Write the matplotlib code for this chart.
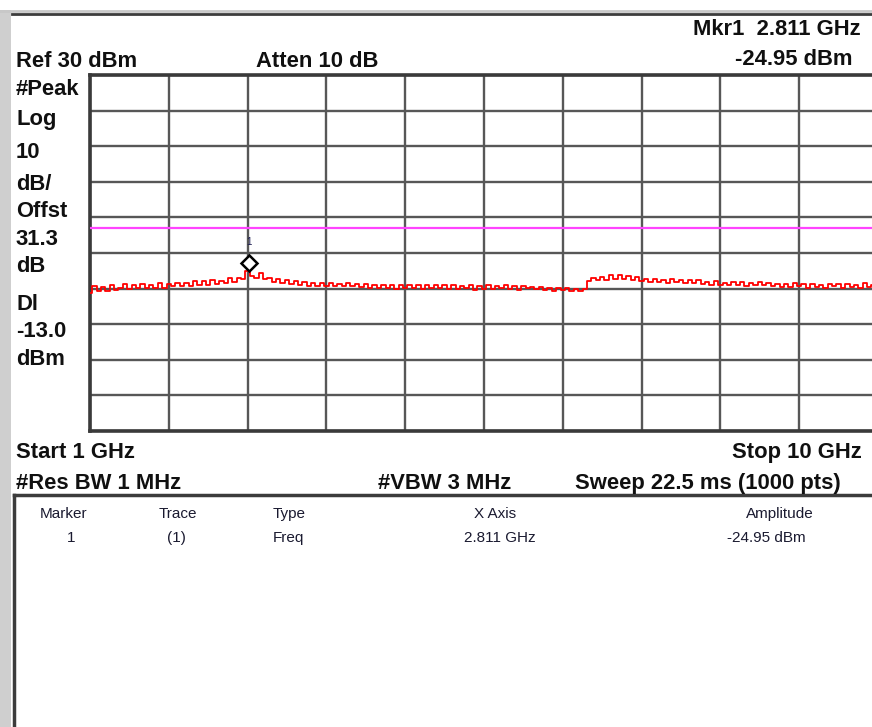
import numpy as np
import matplotlib
matplotlib.use("Agg")
import matplotlib.pyplot as plt
from matplotlib.transforms import ScaledTranslation
from matplotlib.lines import Line2D
from matplotlib.patches import Rectangle

# ---------------- data ----------------
start_ghz = 1.0
stop_ghz = 10.0
ref_level = 30          # dBm at top of screen
db_per_div = 10
display_line = -13.0    # dBm
marker_freq = 2.811     # GHz
marker_amp = -24.95     # dBm

trace_dbm = [
    -31.2, -29.4, -30.6, -29.6, -30.7, -29.1, -30.3,
    -29.8, -28.8, -30.1, -29.1, -29.9, -28.6, -29.8, -28.9, -29.7, -28.5, -29.8, -28.8, -29.4, -28.4,
    -29.3, -28.3, -29.2, -28.0, -29.0, -27.9, -28.9, -27.7, -28.8, -27.8,
    -28.3, -27.1, -28.2, -26.9, -27.4,
    -24.95, -26.6, -27.1, -25.6, -27.2,
    -26.9, -28.2, -27.3, -28.5, -27.6, -28.7,
    -28.0, -29.1, -28.2, -29.3, -28.3, -29.2, -28.5, -29.4, -28.4, -29.3, -28.6, -29.4, -28.5, -29.3,
    -28.8, -29.6, -28.7, -29.8, -29.0, -29.9, -28.9, -29.7, -29.0, -30.1, -29.1, -29.8, -28.9, -29.7,
    -29.0, -30.2, -29.1, -29.9, -28.9, -29.8,
    -29.1, -30.1, -29.0, -30.2, -29.2, -29.9, -29.1, -30.3, -29.2, -30.0, -29.0, -30.1, -29.3, -29.9,
    -29.0, -30.1, -29.2, -30.3, -29.3, -29.9,
    -29.5, -30.1, -29.6, -30.4, -29.7, -30.6, -29.8, -30.5, -29.9, -30.7, -30.0, -30.8, -30.1,
    -27.8,
    -27.0, -27.6, -26.7, -27.5, -26.3, -27.2, -26.1, -27.3, -26.5, -27.5, -26.7,
    -27.8, -27.2, -28.1, -27.4, -28.2, -27.5, -28.3, -27.4, -28.2, -27.6, -28.4, -27.5, -28.5, -27.7,
    -28.6,
    -28.1, -28.9, -28.0, -29.0, -28.3, -29.1, -28.1, -29.0, -28.2, -29.2, -28.3, -28.9, -28.1, -29.1,
    -28.4, -29.2,
    -28.7, -29.5, -28.6, -29.6, -28.5, -29.4, -28.8, -29.7, -28.6, -29.5, -28.9, -29.8, -28.6, -29.4,
    -28.8, -29.7, -28.7, -29.6, -28.9, -29.8, -28.5, -29.5, -28.9, -29.7,
]

left_labels = ["#Peak", "Log", "10", "dB/", "Offst", "31.3", "dB", "Dl", "-13.0", "dBm"]
table_headers = ["Marker", "Trace", "Type", "X Axis", "Amplitude"]
table_row = ["1", "(1)", "Freq", "2.811 GHz", "-24.95 dBm"]

# ---------------- figure ----------------
W, H = 872, 727
DPI = 100
fig = plt.figure(figsize=(W / DPI, H / DPI), dpi=DPI)
fig.patch.set_facecolor("white")

def fx(x):
    return x / W

def fy(y):
    return 1 - y / H

FONT = "Liberation Sans"
BIG = 15.8
TXT = "#101010"

# frame decorations
fig.add_artist(Rectangle((0, 0), fx(11), fy(10), transform=fig.transFigure,
                         facecolor="#cfcfcf", edgecolor="none", zorder=0))
fig.add_artist(Line2D([0, 1], [fy(11), fy(11)], transform=fig.transFigure,
                      color="#c8c8c8", lw=2.0))
fig.add_artist(Line2D([fx(12), 1], [fy(13.5), fy(13.5)], transform=fig.transFigure,
                      color="#3c3c3c", lw=2.0))
# marker table box
fig.add_artist(Line2D([fx(14), 1], [fy(495), fy(495)], transform=fig.transFigure,
                      color="#3c3c3c", lw=2.5))
fig.add_artist(Line2D([fx(14), fx(14)], [fy(495), 0], transform=fig.transFigure,
                      color="#3c3c3c", lw=2.5))

# ---------------- graticule axes ----------------
ax_l, ax_r, ax_t, ax_b = 90, 878, 75, 431
ax = fig.add_axes([fx(ax_l), fy(ax_b), (ax_r - ax_l) / W, (ax_b - ax_t) / H])
ax.set_xlim(start_ghz, stop_ghz)
bottom_level = ref_level - 10 * db_per_div
ax.set_ylim(bottom_level, ref_level)
ax.set_xticks(np.linspace(start_ghz, stop_ghz, 11))
ax.set_yticks(np.arange(bottom_level, ref_level + 1, db_per_div))
ax.grid(True, color="#575757", lw=1.7)
ax.tick_params(length=0, labelbottom=False, labelleft=False)
for s in ax.spines.values():
    s.set_color("#3a3a3a")
    s.set_linewidth(2.6)

freqs = np.linspace(start_ghz, stop_ghz, len(trace_dbm))
ax.plot(freqs, trace_dbm, color="#ff0000", lw=1.3, drawstyle="steps-mid", zorder=3)
ax.axhline(display_line, color="#ff44ff", lw=1.6, zorder=3)

off = ScaledTranslation(0, 8 / DPI, fig.dpi_scale_trans)
ax.plot([marker_freq], [marker_amp], marker="D", ms=8.5, mfc="white", mec="black",
        mew=1.8, transform=ax.transData + off, zorder=5, clip_on=False)
ax.text(marker_freq, marker_amp, "1",
        transform=ax.transData + ScaledTranslation(0, 26 / DPI, fig.dpi_scale_trans),
        ha="center", va="baseline", fontsize=7, color="#1a1a50", family=FONT)

# ---------------- annotations ----------------
def t(x, y, s, ha="left", size=BIG, weight="bold", color=TXT):
    fig.text(fx(x), fy(y), s, ha=ha, va="baseline", fontsize=size,
             fontweight=weight, color=color, family=FONT)

t(16, 67, "Ref 30 dBm")
t(256, 67, "Atten 10 dB")
t(861, 35, "Mkr1  2.811 GHz", ha="right")
t(852, 65, "-24.95 dBm", ha="right")

left_baselines = [95, 125, 158, 190, 217, 245, 272, 310, 337, 365]
for lab, yb in zip(left_labels, left_baselines):
    t(16, yb, lab)

t(16, 458, "Start 1 GHz")
t(862, 458, "Stop 10 GHz", ha="right")
t(16, 489, "#Res BW 1 MHz")
t(378, 489, "#VBW 3 MHz")
t(575, 489, "Sweep 22.5 ms (1000 pts)")

# marker table
TCOL = "#1a1a30"
hdr_x = [64, 178, 273, 495, 780]
hdr_ha = ["center", "center", "left", "center", "center"]
row_x = [71, 176, 273, 500, 766]
for s, x, ha in zip(table_headers, hdr_x, hdr_ha):
    t(x, 518, s, ha=ha, size=11, weight="normal", color=TCOL)
for s, x, ha in zip(table_row, row_x, hdr_ha):
    t(x, 542, s, ha=ha, size=11, weight="normal", color=TCOL)

fig.savefig("out.png", dpi=DPI)
